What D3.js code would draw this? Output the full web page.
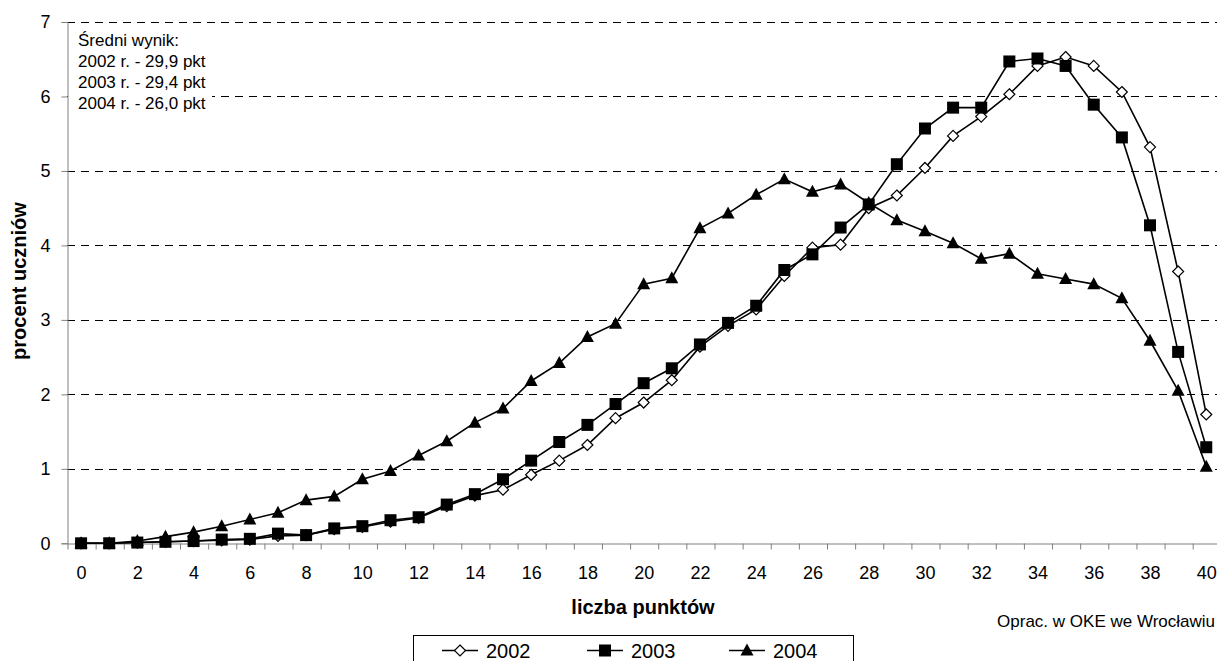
<!DOCTYPE html>
<html>
<head>
<meta charset="utf-8">
<script src="https://cdn.jsdelivr.net/npm/d3@7/dist/d3.min.js"></script>
<style>
  html, body { margin: 0; padding: 0; background: #fff; }
  svg { display: block; font-family: "Liberation Sans", Arial, sans-serif; }
</style>
</head>
<body>
<svg id="chart" width="1217" height="661"></svg>
<script>
// ---- data ----
const points = d3.range(0, 41);
const xTickLabels = d3.range(0, 41, 2);
const yTicks = [0, 1, 2, 3, 4, 5, 6, 7];
const seriesNames = ["2002", "2003", "2004"];
const values2002 = [0, 0, 0.01, 0.02, 0.03, 0.04, 0.05, 0.10, 0.11, 0.19, 0.22, 0.29, 0.34, 0.50, 0.64, 0.72, 0.92, 1.11, 1.32, 1.68, 1.89, 2.19, 2.64, 2.92, 3.14, 3.59, 3.97, 4.01, 4.50, 4.67, 5.04, 5.47, 5.73, 6.03, 6.41, 6.53, 6.41, 6.06, 5.32, 3.65, 1.73];
const values2003 = [0, 0, 0.01, 0.02, 0.03, 0.05, 0.06, 0.13, 0.11, 0.20, 0.23, 0.31, 0.35, 0.52, 0.66, 0.86, 1.11, 1.36, 1.59, 1.87, 2.15, 2.35, 2.67, 2.96, 3.19, 3.67, 3.88, 4.24, 4.55, 5.09, 5.57, 5.85, 5.85, 6.47, 6.51, 6.41, 5.89, 5.45, 4.27, 2.57, 1.29];
const values2004 = [0, 0, 0.03, 0.09, 0.15, 0.23, 0.32, 0.41, 0.58, 0.63, 0.86, 0.97, 1.18, 1.37, 1.62, 1.81, 2.18, 2.42, 2.77, 2.95, 3.48, 3.56, 4.23, 4.43, 4.68, 4.89, 4.72, 4.82, 4.57, 4.34, 4.19, 4.03, 3.82, 3.89, 3.62, 3.55, 3.48, 3.29, 2.72, 2.05, 1.03];
const noteLines = ["Średni wynik:", "2002 r. - 29,9 pkt", "2003 r. - 29,4 pkt", "2004 r. - 26,0 pkt"];
const xTitle = "liczba punktów";
const yTitle = "procent uczniów";
const sourceNote = "Oprac. w OKE we Wrocławiu";

// ---- layout ----
const svg = d3.select("#chart");
const x = d3.scaleLinear().domain([-0.5, 40.5]).range([67, 67 + 41 * 28.13]);
const y = d3.scaleLinear().domain([0, 7]).range([543.3, 22]);

const series = [
  { name: seriesNames[0], values: values2002, marker: "diamond" },
  { name: seriesNames[1], values: values2003, marker: "square" },
  { name: seriesNames[2], values: values2004, marker: "triangle" }
];

// gridlines
svg.append("g").selectAll("line")
  .data(yTicks.filter(d => d > 0))
  .join("line")
  .attr("x1", x(-0.5)).attr("x2", 1217)
  .attr("y1", d => Math.round(y(d)) + 0.5).attr("y2", d => Math.round(y(d)) + 0.5)
  .attr("stroke", "#000").attr("stroke-width", 1)
  .attr("stroke-dasharray", "8,6");

// note box (white background hides the gridline behind it)
svg.append("rect")
  .attr("x", 68).attr("y", 28).attr("width", 144).attr("height", 88)
  .attr("fill", "#fff");
const note = svg.append("text").attr("x", 78).attr("font-size", 17).attr("fill", "#000");
noteLines.forEach((t, i) => {
  note.append("tspan").attr("x", 78).attr("y", 46 + i * 21).text(t);
});

// y axis
const yAxis = svg.append("g")
  .attr("transform", `translate(${Math.round(x(-0.5)) + 0.5},0)`)
  .call(d3.axisLeft(y).tickValues(yTicks).tickSize(6).tickPadding(11).tickFormat(d3.format("d")));
yAxis.select(".domain").attr("stroke", "#808080");
yAxis.selectAll(".tick line").attr("stroke", "#808080");
yAxis.selectAll("text").attr("font-size", 18).attr("fill", "#000")
  .attr("font-family", "Liberation Sans, Arial, sans-serif");

// x axis (ticks between categories)
const xTickBounds = d3.range(-0.5, 41, 1);
const xAxis = svg.append("g")
  .attr("transform", `translate(0,${Math.round(y(0)) + 0.5})`)
  .call(d3.axisBottom(x).tickValues(xTickBounds).tickSize(6).tickFormat("").tickSizeOuter(0));
xAxis.select(".domain").attr("stroke", "#808080");
xAxis.selectAll(".tick line").attr("stroke", "#808080");
xAxis.selectAll(".tick line").attr("transform", "translate(0.5,0)");

const xLabels = svg.append("g")
  .attr("transform", `translate(0,${Math.round(y(0)) + 0.5})`)
  .call(d3.axisBottom(x).tickValues(xTickLabels).tickSize(0).tickPadding(23).tickFormat(d3.format("d")));
xLabels.select(".domain").remove();
xLabels.selectAll("text").attr("font-size", 18).attr("fill", "#000")
  .attr("font-family", "Liberation Sans, Arial, sans-serif");

// markers
function drawMarker(g, type, cx, cy) {
  if (type === "diamond") {
    const r = 5.5;
    g.append("path")
      .attr("d", `M${cx},${cy - r}L${cx + r},${cy}L${cx},${cy + r}L${cx - r},${cy}Z`)
      .attr("fill", "#fff").attr("stroke", "#000").attr("stroke-width", 1.2);
  } else if (type === "square") {
    const s = 12;
    g.append("rect")
      .attr("x", cx - s / 2).attr("y", cy - s / 2).attr("width", s).attr("height", s)
      .attr("fill", "#000");
  } else {
    const w = 13, h = 12;
    g.append("path")
      .attr("d", `M${cx},${cy - h * 0.58}L${cx + w / 2},${cy + h * 0.42}L${cx - w / 2},${cy + h * 0.42}Z`)
      .attr("fill", "#000");
  }
}

const plot = svg.append("g");
series.forEach(s => {
  const g = plot.append("g");
  const line = d3.line().x((d, i) => x(points[i])).y(d => y(d));
  g.append("path").datum(s.values)
    .attr("d", line).attr("fill", "none").attr("stroke", "#000").attr("stroke-width", 1.6);
  s.values.forEach((v, i) => drawMarker(g, s.marker, x(points[i]), y(v)));
});

// axis titles
svg.append("text")
  .attr("x", 643).attr("y", 614)
  .attr("text-anchor", "middle").attr("font-size", 20).attr("font-weight", "bold")
  .text(xTitle);
svg.append("text")
  .attr("transform", "translate(26,281) rotate(-90)")
  .attr("text-anchor", "middle").attr("font-size", 20).attr("font-weight", "bold")
  .text(yTitle);

// source
svg.append("text")
  .attr("x", 1215).attr("y", 627)
  .attr("text-anchor", "end").attr("font-size", 17)
  .text(sourceNote);

// legend
const legend = svg.append("g");
legend.append("rect")
  .attr("x", 413.5).attr("y", 635.5).attr("width", 440).attr("height", 50)
  .attr("fill", "#fff").attr("stroke", "#000").attr("stroke-width", 1);
const legendX = [442, 587, 729];
series.forEach((s, i) => {
  const lx = legendX[i];
  const ly = 650.5;
  legend.append("line").attr("x1", lx).attr("x2", lx + 36).attr("y1", ly).attr("y2", ly)
    .attr("stroke", "#000").attr("stroke-width", 1.6);
  drawMarker(legend, s.marker, lx + 18, ly);
  legend.append("text").attr("x", lx + 44).attr("y", 658)
    .attr("font-size", 20).text(s.name);
});
</script>
</body>
</html>
